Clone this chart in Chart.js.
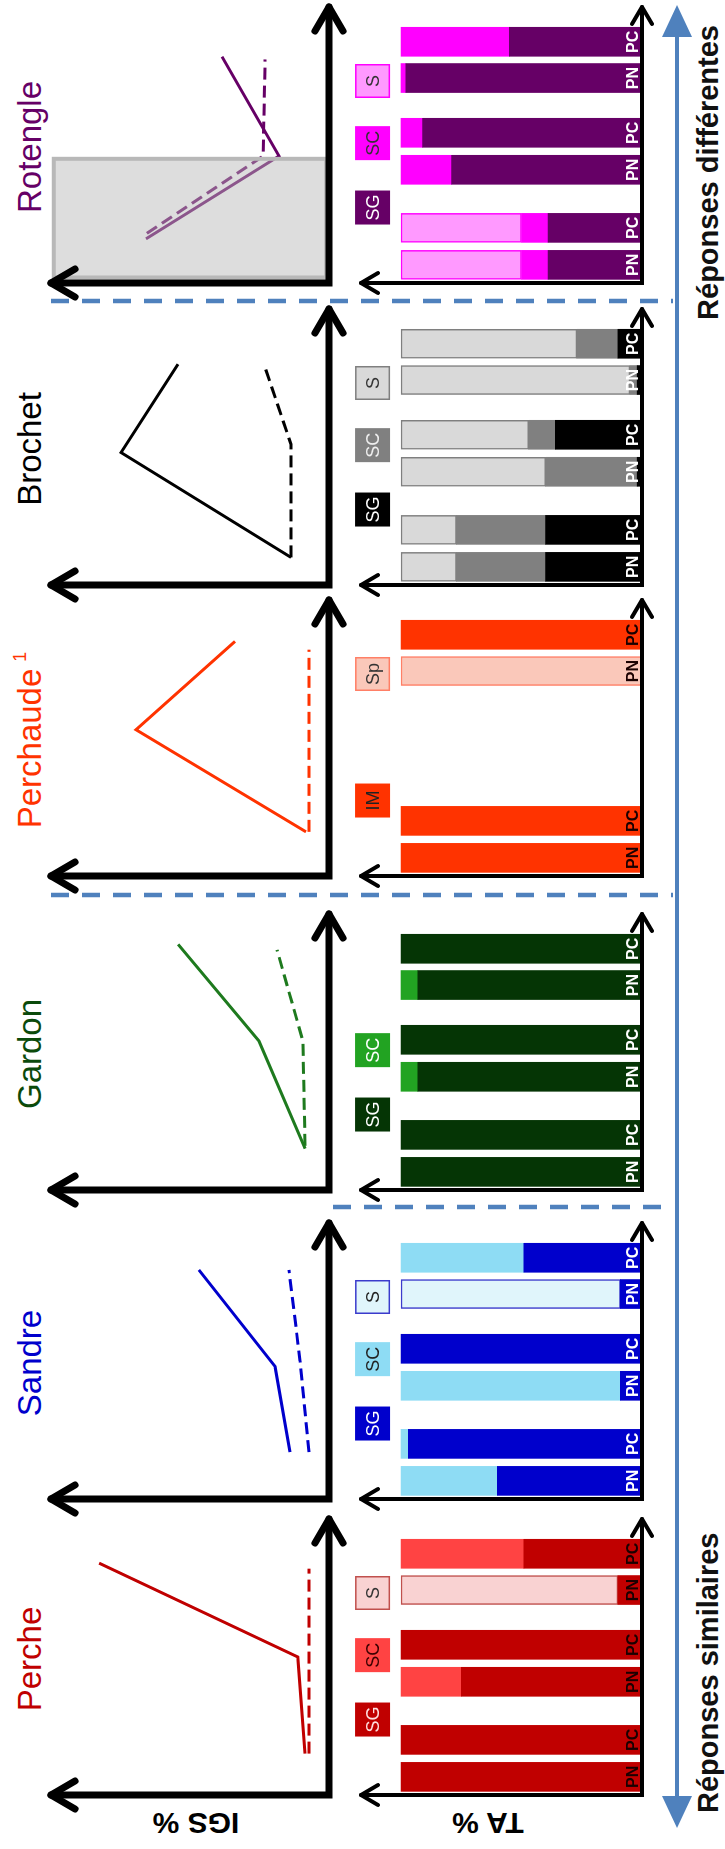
<!DOCTYPE html>
<html lang="fr">
<head>
<meta charset="utf-8">
<title>IGS % et TA % par espèce</title>
<script src="https://cdn.jsdelivr.net/npm/chart.js@4.4.1/dist/chart.umd.min.js"></script>
<style>
html, body { margin:0; padding:0; background:#fff; width:725px; height:1849px; overflow:hidden; }
/* la figure est construite à l'horizontale puis tournée de -90° */
#fig { position:absolute; left:0; top:0; width:1849px; height:725px; transform-origin:0 0;
       transform:translate(0,1849px) rotate(-90deg); font-family:"Liberation Sans", Arial, sans-serif; }
#fig canvas { position:absolute; }
#fig svg { position:absolute; left:0; top:0; }
.titre { position:absolute; top:13px; font-size:33px; line-height:1; white-space:nowrap; transform:translateX(-50%); }
.titre sup { font-size:18px; vertical-align:0; position:relative; top:-15px; margin-left:7px; }
.axe { position:absolute; font-weight:bold; font-size:30px; line-height:1; white-space:nowrap; color:#000;
       transform:translate(-50%,-50%) rotate(-90deg); }
.rep { position:absolute; top:694px; font-weight:bold; font-size:29px; line-height:1; white-space:nowrap; color:#111; }
</style>
</head>
<body>
<div id="fig">
  <svg width="1849" height="725">
    <g stroke="#4F81BD" stroke-width="4.5" stroke-dasharray="18 13">
      <line x1="642" y1="333" x2="642" y2="673"/>
      <line x1="954" y1="51" x2="954" y2="673"/>
      <line x1="1548" y1="51" x2="1548" y2="673"/>
    </g>
    <line x1="45" y1="677" x2="1820" y2="677" stroke="#4F81BD" stroke-width="4"/>
    <polygon points="21,677 53,662 53,692" fill="#4F81BD"/>
    <polygon points="1844,677 1812,662 1812,692" fill="#4F81BD"/>
  </svg>
  <div class="axe" style="left:26px;top:196px">IGS %</div>
  <div class="axe" style="left:26px;top:488px">TA %</div>
  <div class="rep" style="left:36px">Réponses similaires</div>
  <div class="rep" style="right:25px">Réponses différentes</div>
</div>
<script>
// --- données ---
const especes = ['Perche', 'Sandre', 'Gardon', 'Perchaude', 'Brochet', 'Rotengle'];

// IGS % : position le long de l'axe (0-100) et valeur, trait plein / tirets
const igsPleinX  = [[15, 50, 84], [17, 48, 83], [15, 54, 89], [16, 53, 85], [10, 48, 80], [16, 46, 82]];
const igsPleinY  = [[8.6, 11.2, 82.7], [14, 19.4, 46.8], [8.6, 25.2, 54.3], [8.3, 69.4, 33.8], [13.7, 74.8, 54.3], [65.8, 18, 38.5]];
const igsTiretsX = [[15, 82], [17, 50, 83], [16, 54, 87], [16, 82], [10, 51, 80], [18, 46, 81]];
const igsTiretsY = [[7.2, 7.2], [7.2, 10.4, 14.4], [8.6, 9.4, 18.7], [7.2, 7.2], [13.7, 13.7, 23.4], [65.5, 23.7, 23]];
// zone grisée du Rotengle (unités des axes)
const masqueRotengle = {x: [2, 45], y: [1, 99]};

// TA % : barres PN / PC pour chaque groupe
const barres = ['PN', 'PC', 'PN', 'PC', 'PN', 'PC'];
const posBarres = [0, 1, 2.57, 3.57, 5.05, 6.03];
const posGroupes = [1.55, 3.29, 4.97];
const groupes = [
  ['SG', 'SC', 'S'], ['SG', 'SC', 'S'], ['SG', 'SC', null],
  ['IM', null, 'Sp'], ['SG', 'SC', 'S'], ['SG', 'SC', 'S']
];
// stade du bas (SG / IM), milieu (SC), haut (S / Sp)
const taBas = [
  [100, 100, 75, 100, 10, 49],
  [60, 97, 9, 100, 9, 49],
  [100, 100, 93, 100, 93, 100],
  [100, 100, null, null, 0, 100],
  [40, 40, 2, 36, 2, 10],
  [39, 39, 79, 91, 98, 55]
];
const taMilieu = [
  [0, 0, 25, 0, 0, 51],
  [40, 3, 91, 0, 0, 51],
  [0, 0, 7, 0, 7, 0],
  [0, 0, null, null, 0, 0],
  [37, 37, 38, 11, 3, 17],
  [11, 11, 21, 9, 2, 45]
];
const taHaut = [
  [0, 0, 0, 0, 90, 0],
  [0, 0, 0, 0, 91, 0],
  [0, 0, 0, 0, 0, 0],
  [0, 0, null, null, 100, 0],
  [23, 23, 60, 53, 95, 73],
  [50, 50, 0, 0, 0, 0]
];

// --- styles et mise en page ---
const origines = [54, 350, 659, 973, 1264, 1566];
const couleurTitre = ['#C00000', '#0000CC', '#0B4A0B', '#FF3300', '#000000', '#660066'];
const couleurLigne = ['#C00000', '#0000CC', '#1E7A1E', '#FF3300', '#000000', '#660066'];
const couleursBarres = [
  ['#C00000', '#FF4343', '#F9D2D2'],
  ['#0000CC', '#8EDCF4', '#E0F5FB'],
  ['#053505', '#22A322', '#FFFFFF'],
  ['#FF3300', '#FF3300', '#FAC8BA'],
  ['#000000', '#808080', '#D9D9D9'],
  ['#660066', '#FF00FF', '#FF99FF']
];
const bordHaut = ['#C0504D', '#3B3BCC', '#000000', '#FF7F66', '#7F7F7F', '#FF00FF'];
const texteBarres = ['#1A0000', '#FFFFFF', '#FFFFFF', '#1A0000', '#FFFFFF', '#FFFFFF'];
const texteGroupes = [
  ['#FFE0E0', '#3A0000', '#333'], ['#FFF', '#222', '#222'], ['#FFF', '#FFF', '#333'],
  ['#222', '#222', '#333'], ['#FFF', '#EEE', '#333'], ['#FFF', '#333', '#333']
];
const police = '"Liberation Sans", Arial, sans-serif';

const fleches = {
  id: 'fleches',
  afterDatasetsDraw(chart, args, o) {
    const {ctx, chartArea: a} = chart;
    ctx.save();
    ctx.strokeStyle = '#000';
    ctx.lineWidth = o.w;
    ctx.lineCap = 'round';
    ctx.lineJoin = 'miter';
    ctx.beginPath();
    ctx.moveTo(a.left, a.top);
    ctx.lineTo(a.left, a.bottom);
    ctx.lineTo(a.right, a.bottom);
    ctx.stroke();
    ctx.lineJoin = 'round';
    ctx.beginPath();
    ctx.moveTo(a.left - o.hw, a.top + o.hl);
    ctx.lineTo(a.left, a.top);
    ctx.lineTo(a.left + o.hw, a.top + o.hl);
    ctx.moveTo(a.right - o.hl, a.bottom - o.hw);
    ctx.lineTo(a.right, a.bottom);
    ctx.lineTo(a.right - o.hl, a.bottom + o.hw);
    ctx.stroke();
    ctx.restore();
  }
};

const masque = {
  id: 'masque',
  afterDatasetsDraw(chart, args, o) {
    if (!o.zone) return;
    const {ctx, scales: {x, y}} = chart;
    const x0 = x.getPixelForValue(o.zone.x[0]), x1 = x.getPixelForValue(o.zone.x[1]);
    const y0 = y.getPixelForValue(o.zone.y[1]), y1 = y.getPixelForValue(o.zone.y[0]);
    ctx.save();
    ctx.fillStyle = 'rgba(183,183,183,0.47)';
    ctx.fillRect(x0, y0, x1 - x0, y1 - y0);
    ctx.strokeStyle = '#B8B8B8';
    ctx.lineWidth = 4;
    ctx.strokeRect(x0, y0, x1 - x0, y1 - y0);
    ctx.restore();
  }
};

const etiquettes = {
  id: 'etiquettes',
  afterDatasetsDraw(chart, args, o) {
    const {ctx, scales: {x, y}} = chart;
    ctx.save();
    ctx.textAlign = 'center';
    ctx.font = 'bold 16px ' + police;
    ctx.textBaseline = 'alphabetic';
    ctx.fillStyle = o.texte;
    barres.forEach((b, j) => {
      if (o.presentes[j]) ctx.fillText(b, x.getPixelForValue(posBarres[j]), y.getPixelForValue(0) - 4);
    });
    ctx.font = '18px ' + police;
    ctx.textBaseline = 'middle';
    o.groupes.forEach((g, k) => {
      if (!g) return;
      const cx = x.getPixelForValue(posGroupes[k]), cy = y.getPixelForValue(111.8);
      ctx.fillStyle = o.fonds[k];
      ctx.fillRect(cx - 17, cy - 17.5, 34, 35);
      if (k === 2) {
        ctx.strokeStyle = o.bord;
        ctx.lineWidth = 1.5;
        ctx.strokeRect(cx - 16.25, cy - 16.75, 32.5, 33.5);
      }
      ctx.fillStyle = o.textes[k];
      ctx.fillText(g, cx, cy + 1);
    });
    ctx.restore();
  }
};

function toile(left, top, w, h) {
  const c = document.createElement('canvas');
  c.width = w; c.height = h;
  c.style.left = left + 'px'; c.style.top = top + 'px';
  c.style.width = w + 'px'; c.style.height = h + 'px';
  document.getElementById('fig').appendChild(c);
  return c;
}

function titre(nom, i) {
  const d = document.createElement('div');
  d.className = 'titre';
  d.style.left = (origines[i] + 136) + 'px';
  d.style.color = couleurTitre[i];
  d.textContent = nom;
  if (nom === 'Perchaude') {
    const s = document.createElement('sup');
    s.textContent = '1';
    d.appendChild(s);
  }
  document.getElementById('fig').appendChild(d);
}

especes.forEach((nom, i) => {
  const O = origines[i];
  titre(nom, i);

  // courbes IGS %
  new Chart(toile(O - 20, 40, 320, 310), {
    type: 'line',
    data: {
      datasets: [
        {data: igsPleinX[i].map((v, k) => ({x: v, y: igsPleinY[i][k]})), borderDash: []},
        {data: igsTiretsX[i].map((v, k) => ({x: v, y: igsTiretsY[i][k]})), borderDash: [12, 6]}
      ].map(d => Object.assign(d, {borderColor: couleurLigne[i], borderWidth: 3, pointRadius: 0, tension: 0, fill: false}))
    },
    options: {
      animation: false, responsive: false, events: [],
      layout: {padding: {left: 20, right: 24, top: 11, bottom: 21}},
      scales: {
        x: {type: 'linear', min: 0, max: 100, display: false},
        y: {min: 0, max: 100, display: false}
      },
      plugins: {
        legend: {display: false}, tooltip: {enabled: false},
        masque: {zone: nom === 'Rotengle' ? masqueRotengle : null},
        fleches: {w: 7, hw: 14, hl: 24}
      }
    },
    plugins: [masque, fleches]
  });

  // barres TA %
  const stades = [taBas[i], taMilieu[i], taHaut[i]];
  const presentes = barres.map((b, j) => stades.some(s => s[j]));
  new Chart(toile(O - 20, 340, 320, 330), {
    type: 'bar',
    data: {
      datasets: stades.map((vals, k) => ({
        data: vals.map((v, j) => ({x: posBarres[j], y: v})).filter(p => p.y),
        backgroundColor: couleursBarres[i][k],
        borderColor: k === 2 ? bordHaut[i] : couleursBarres[i][k],
        borderWidth: k === 2 ? 1.5 : 0,
        borderSkipped: false,
        barThickness: 29
      }))
    },
    options: {
      animation: false, responsive: false, events: [],
      layout: {padding: {left: 20, right: 24, top: 21, bottom: 28}},
      scales: {
        x: {type: 'linear', min: -0.49, max: 6.97, offset: false, stacked: true, display: false},
        y: {min: 0, max: 116.6, stacked: true, display: false}
      },
      plugins: {
        legend: {display: false}, tooltip: {enabled: false},
        etiquettes: {
          presentes: presentes, texte: texteBarres[i], groupes: groupes[i],
          fonds: couleursBarres[i], textes: texteGroupes[i], bord: bordHaut[i]
        },
        fleches: {w: 4, hw: 10, hl: 17}
      }
    },
    plugins: [etiquettes, fleches]
  });
});
</script>
</body>
</html>
